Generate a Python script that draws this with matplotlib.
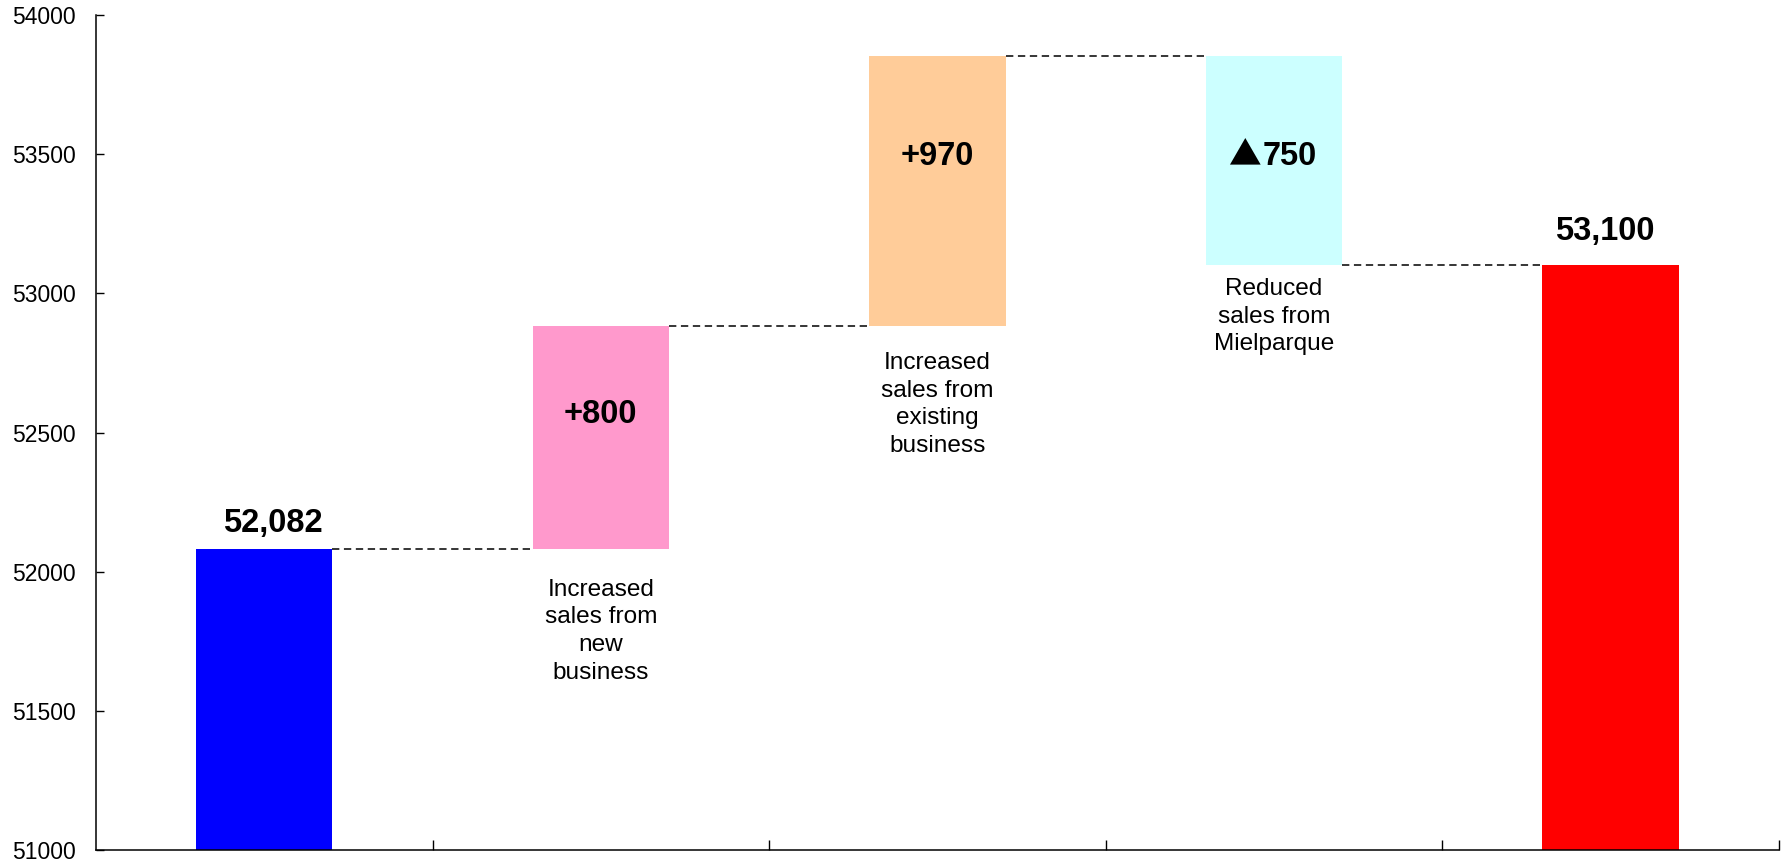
import matplotlib
matplotlib.use("Agg")
import matplotlib.pyplot as plt

plt.rcParams['font.family'] = ['Liberation Sans', 'DejaVu Sans']

# ---- data ----
start_value = 52082
end_value = 53100
deltas = [800, 970, -750]
delta_labels = ["+800", "+970", "\u25b2750"]
category_labels = ["Increased\nsales from\nnew\nbusiness",
                   "Increased\nsales from\nexisting\nbusiness",
                   "Reduced\nsales from\nMielparque"]
start_label = "52,082"
end_label = "53,100"
colors = ["#0000FF", "#FF99CC", "#FFCC99", "#CCFFFF", "#FF0000"]
yticks = [51000, 51500, 52000, 52500, 53000, 53500, 54000]

# ---- geometry derived from data ----
bottoms = [0]
heights = [start_value]
level = start_value
levels = [start_value]
for d in deltas:
    lo = min(level, level + d)
    bottoms.append(lo)
    heights.append(abs(d))
    level += d
    levels.append(level)
bottoms.append(0)
heights.append(end_value)

fig = plt.figure(figsize=(17.87, 8.65), dpi=100)
ax = fig.add_axes([0.0537, 0.0173, 0.9418, 0.9654])

xs = list(range(5))
width = 0.405
ax.bar(xs, heights, bottom=bottoms, width=width, color=colors, edgecolor='none', zorder=2)

# connectors
for i in range(4):
    ax.plot([xs[i] + width / 2, xs[i + 1] - width / 2], [levels[i], levels[i]],
            color='black', lw=1.1, linestyle=(0, (4.8, 3.0)), zorder=3)

ax.set_xlim(-0.5, 4.5)
ax.set_ylim(51000, 54000)
ax.set_yticks(yticks)
ax.set_yticklabels([str(v) for v in yticks])
ax.set_xticks([0.5, 1.5, 2.5, 3.5, 4.5])
ax.set_xticklabels([])
ax.tick_params(axis='y', direction='in', length=6, width=1, pad=14.5, labelsize=16.5)
ax.tick_params(axis='x', direction='in', length=7, width=1)
for s in ['top', 'right']:
    ax.spines[s].set_visible(False)
for s in ['left', 'bottom']:
    ax.spines[s].set_linewidth(1.1)

# totals labels
ax.annotate(start_label, (xs[0], start_value), xytext=(9, 17), textcoords='offset pixels',
            ha='center', va='baseline', fontsize=23.5, fontweight='bold')
ax.annotate(end_label, (xs[4], end_value), xytext=(-6, 25), textcoords='offset pixels',
            ha='center', va='baseline', fontsize=23.5, fontweight='bold')

# delta labels inside bars (baseline position as fraction of bar height)
label_fracs = [0.565, 0.596, 0.477]
for i in range(3):
    y = bottoms[i + 1] + heights[i + 1] * label_fracs[i]
    lab = delta_labels[i]
    if lab.startswith("\u25b2"):
        ax.annotate(lab[1:], (xs[i + 1], y), xytext=(-11, 0), textcoords='offset pixels',
                    ha='left', va='baseline', fontsize=23.5, fontweight='bold', zorder=4)
        ax.annotate("\u25b2", (xs[i + 1], y), xytext=(-13, 0), textcoords='offset pixels',
                    ha='right', va='baseline', fontsize=23.5, fontweight='bold',
                    family=['Noto Sans CJK JP', 'DejaVu Sans'], zorder=4)
    else:
        ax.text(xs[i + 1], y, lab, ha='center', va='baseline',
                fontsize=23.5, fontweight='bold', zorder=4)

# category labels below bars
cat_offsets = [-30, -26, -13]
for i in range(3):
    ax.annotate(category_labels[i], (xs[i + 1], bottoms[i + 1]), xytext=(0, cat_offsets[i]),
                textcoords='offset pixels', ha='center', va='top', fontsize=17.6,
                linespacing=1.33)

fig.savefig("out.png", dpi=100)
